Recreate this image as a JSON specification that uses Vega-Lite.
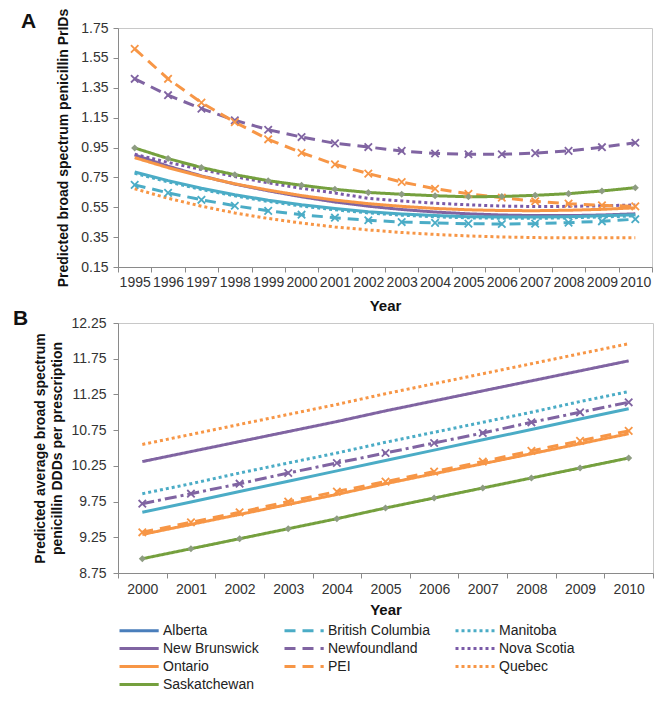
{
  "$schema": "https://vega.github.io/schema/vega-lite/v6.json",
  "background": "white",
  "padding": {"left": 12, "top": 7, "right": 8, "bottom": 4},
  "config": {
    "font": "Liberation Sans",
    "view": {"stroke": "#C8C8C8", "strokeWidth": 1},
    "axis": {
      "labelFont": "Liberation Sans", "labelFontSize": 14, "labelColor": "#333333",
      "titleFont": "Liberation Sans", "titleFontSize": 14, "titleFontWeight": "bold", "titleColor": "#111111",
      "domainColor": "#8A8A8A", "tickColor": "#8A8A8A", "tickSize": 5, "grid": false
    },
    "legend": {
      "symbolType": "M-1,0H4.6", "symbolSize": 196, "symbolStrokeWidth": 3,
      "labelFont": "Liberation Sans", "labelFontSize": 14, "labelColor": "#222222",
      "labelOffset": 28, "columnPadding": 19, "rowPadding": 2, "offset": 4
    },
    "title": {"font": "Liberation Sans"}
  },
  "datasets": {
    "a": [
      {"series":"Alberta","year":1995,"value":0.786},{"series":"Alberta","year":1996,"value":0.728},{"series":"Alberta","year":1997,"value":0.677},{"series":"Alberta","year":1998,"value":0.634},{"series":"Alberta","year":1999,"value":0.597},{"series":"Alberta","year":2000,"value":0.566},{"series":"Alberta","year":2001,"value":0.541},{"series":"Alberta","year":2002,"value":0.52},{"series":"Alberta","year":2003,"value":0.505},{"series":"Alberta","year":2004,"value":0.494},{"series":"Alberta","year":2005,"value":0.487},{"series":"Alberta","year":2006,"value":0.484},{"series":"Alberta","year":2007,"value":0.484},{"series":"Alberta","year":2008,"value":0.487},{"series":"Alberta","year":2009,"value":0.493},{"series":"Alberta","year":2010,"value":0.5},
      {"series":"Manitoba","year":1995,"value":0.778},{"series":"Manitoba","year":1996,"value":0.72},{"series":"Manitoba","year":1997,"value":0.669},{"series":"Manitoba","year":1998,"value":0.626},{"series":"Manitoba","year":1999,"value":0.589},{"series":"Manitoba","year":2000,"value":0.558},{"series":"Manitoba","year":2001,"value":0.533},{"series":"Manitoba","year":2002,"value":0.512},{"series":"Manitoba","year":2003,"value":0.497},{"series":"Manitoba","year":2004,"value":0.486},{"series":"Manitoba","year":2005,"value":0.479},{"series":"Manitoba","year":2006,"value":0.476},{"series":"Manitoba","year":2007,"value":0.476},{"series":"Manitoba","year":2008,"value":0.479},{"series":"Manitoba","year":2009,"value":0.485},{"series":"Manitoba","year":2010,"value":0.492},
      {"series":"British Columbia","year":1995,"value":0.7},{"series":"British Columbia","year":1996,"value":0.646},{"series":"British Columbia","year":1997,"value":0.6},{"series":"British Columbia","year":1998,"value":0.56},{"series":"British Columbia","year":1999,"value":0.526},{"series":"British Columbia","year":2000,"value":0.5},{"series":"British Columbia","year":2001,"value":0.48},{"series":"British Columbia","year":2002,"value":0.463},{"series":"British Columbia","year":2003,"value":0.451},{"series":"British Columbia","year":2004,"value":0.445},{"series":"British Columbia","year":2005,"value":0.44},{"series":"British Columbia","year":2006,"value":0.438},{"series":"British Columbia","year":2007,"value":0.44},{"series":"British Columbia","year":2008,"value":0.447},{"series":"British Columbia","year":2009,"value":0.456},{"series":"British Columbia","year":2010,"value":0.47},
      {"series":"New Brunswick","year":1995,"value":0.9},{"series":"New Brunswick","year":1996,"value":0.825},{"series":"New Brunswick","year":1997,"value":0.76},{"series":"New Brunswick","year":1998,"value":0.705},{"series":"New Brunswick","year":1999,"value":0.66},{"series":"New Brunswick","year":2000,"value":0.62},{"series":"New Brunswick","year":2001,"value":0.585},{"series":"New Brunswick","year":2002,"value":0.557},{"series":"New Brunswick","year":2003,"value":0.535},{"series":"New Brunswick","year":2004,"value":0.518},{"series":"New Brunswick","year":2005,"value":0.506},{"series":"New Brunswick","year":2006,"value":0.498},{"series":"New Brunswick","year":2007,"value":0.494},{"series":"New Brunswick","year":2008,"value":0.494},{"series":"New Brunswick","year":2009,"value":0.498},{"series":"New Brunswick","year":2010,"value":0.506},
      {"series":"Newfoundland","year":1995,"value":1.41},{"series":"Newfoundland","year":1996,"value":1.3},{"series":"Newfoundland","year":1997,"value":1.21},{"series":"Newfoundland","year":1998,"value":1.132},{"series":"Newfoundland","year":1999,"value":1.069},{"series":"Newfoundland","year":2000,"value":1.02},{"series":"Newfoundland","year":2001,"value":0.978},{"series":"Newfoundland","year":2002,"value":0.953},{"series":"Newfoundland","year":2003,"value":0.927},{"series":"Newfoundland","year":2004,"value":0.91},{"series":"Newfoundland","year":2005,"value":0.905},{"series":"Newfoundland","year":2006,"value":0.905},{"series":"Newfoundland","year":2007,"value":0.912},{"series":"Newfoundland","year":2008,"value":0.927},{"series":"Newfoundland","year":2009,"value":0.952},{"series":"Newfoundland","year":2010,"value":0.982},
      {"series":"Nova Scotia","year":1995,"value":0.905},{"series":"Nova Scotia","year":1996,"value":0.85},{"series":"Nova Scotia","year":1997,"value":0.803},{"series":"Nova Scotia","year":1998,"value":0.755},{"series":"Nova Scotia","year":1999,"value":0.713},{"series":"Nova Scotia","year":2000,"value":0.677},{"series":"Nova Scotia","year":2001,"value":0.645},{"series":"Nova Scotia","year":2002,"value":0.61},{"series":"Nova Scotia","year":2003,"value":0.592},{"series":"Nova Scotia","year":2004,"value":0.577},{"series":"Nova Scotia","year":2005,"value":0.566},{"series":"Nova Scotia","year":2006,"value":0.558},{"series":"Nova Scotia","year":2007,"value":0.555},{"series":"Nova Scotia","year":2008,"value":0.556},{"series":"Nova Scotia","year":2009,"value":0.56},{"series":"Nova Scotia","year":2010,"value":0.565},
      {"series":"Ontario","year":1995,"value":0.882},{"series":"Ontario","year":1996,"value":0.815},{"series":"Ontario","year":1997,"value":0.757},{"series":"Ontario","year":1998,"value":0.707},{"series":"Ontario","year":1999,"value":0.665},{"series":"Ontario","year":2000,"value":0.628},{"series":"Ontario","year":2001,"value":0.598},{"series":"Ontario","year":2002,"value":0.574},{"series":"Ontario","year":2003,"value":0.556},{"series":"Ontario","year":2004,"value":0.542},{"series":"Ontario","year":2005,"value":0.533},{"series":"Ontario","year":2006,"value":0.528},{"series":"Ontario","year":2007,"value":0.527},{"series":"Ontario","year":2008,"value":0.53},{"series":"Ontario","year":2009,"value":0.536},{"series":"Ontario","year":2010,"value":0.546},
      {"series":"PEI","year":1995,"value":1.61},{"series":"PEI","year":1996,"value":1.41},{"series":"PEI","year":1997,"value":1.25},{"series":"PEI","year":1998,"value":1.12},{"series":"PEI","year":1999,"value":1.005},{"series":"PEI","year":2000,"value":0.915},{"series":"PEI","year":2001,"value":0.837},{"series":"PEI","year":2002,"value":0.775},{"series":"PEI","year":2003,"value":0.719},{"series":"PEI","year":2004,"value":0.674},{"series":"PEI","year":2005,"value":0.64},{"series":"PEI","year":2006,"value":0.614},{"series":"PEI","year":2007,"value":0.59},{"series":"PEI","year":2008,"value":0.574},{"series":"PEI","year":2009,"value":0.563},{"series":"PEI","year":2010,"value":0.556},
      {"series":"Quebec","year":1995,"value":0.674},{"series":"Quebec","year":1996,"value":0.61},{"series":"Quebec","year":1997,"value":0.557},{"series":"Quebec","year":1998,"value":0.512},{"series":"Quebec","year":1999,"value":0.475},{"series":"Quebec","year":2000,"value":0.444},{"series":"Quebec","year":2001,"value":0.418},{"series":"Quebec","year":2002,"value":0.398},{"series":"Quebec","year":2003,"value":0.381},{"series":"Quebec","year":2004,"value":0.368},{"series":"Quebec","year":2005,"value":0.358},{"series":"Quebec","year":2006,"value":0.351},{"series":"Quebec","year":2007,"value":0.347},{"series":"Quebec","year":2008,"value":0.345},{"series":"Quebec","year":2009,"value":0.345},{"series":"Quebec","year":2010,"value":0.346},
      {"series":"Saskatchewan","year":1995,"value":0.947},{"series":"Saskatchewan","year":1996,"value":0.876},{"series":"Saskatchewan","year":1997,"value":0.816},{"series":"Saskatchewan","year":1998,"value":0.768},{"series":"Saskatchewan","year":1999,"value":0.728},{"series":"Saskatchewan","year":2000,"value":0.697},{"series":"Saskatchewan","year":2001,"value":0.67},{"series":"Saskatchewan","year":2002,"value":0.649},{"series":"Saskatchewan","year":2003,"value":0.637},{"series":"Saskatchewan","year":2004,"value":0.627},{"series":"Saskatchewan","year":2005,"value":0.62},{"series":"Saskatchewan","year":2006,"value":0.622},{"series":"Saskatchewan","year":2007,"value":0.63},{"series":"Saskatchewan","year":2008,"value":0.641},{"series":"Saskatchewan","year":2009,"value":0.659},{"series":"Saskatchewan","year":2010,"value":0.681}
    ],
    "b": [
      {"series":"Alberta","year":2000,"value":9.6},{"series":"Alberta","year":2001,"value":9.745},{"series":"Alberta","year":2002,"value":9.89},{"series":"Alberta","year":2003,"value":10.035},{"series":"Alberta","year":2004,"value":10.18},{"series":"Alberta","year":2005,"value":10.325},{"series":"Alberta","year":2006,"value":10.47},{"series":"Alberta","year":2007,"value":10.615},{"series":"Alberta","year":2008,"value":10.76},{"series":"Alberta","year":2009,"value":10.905},{"series":"Alberta","year":2010,"value":11.05},
      {"series":"Manitoba","year":2000,"value":9.86},{"series":"Manitoba","year":2001,"value":10.0},{"series":"Manitoba","year":2002,"value":10.15},{"series":"Manitoba","year":2003,"value":10.29},{"series":"Manitoba","year":2004,"value":10.43},{"series":"Manitoba","year":2005,"value":10.58},{"series":"Manitoba","year":2006,"value":10.72},{"series":"Manitoba","year":2007,"value":10.86},{"series":"Manitoba","year":2008,"value":11.0},{"series":"Manitoba","year":2009,"value":11.15},{"series":"Manitoba","year":2010,"value":11.29},
      {"series":"New Brunswick","year":2000,"value":10.31},{"series":"New Brunswick","year":2001,"value":10.45},{"series":"New Brunswick","year":2002,"value":10.59},{"series":"New Brunswick","year":2003,"value":10.73},{"series":"New Brunswick","year":2004,"value":10.87},{"series":"New Brunswick","year":2005,"value":11.02},{"series":"New Brunswick","year":2006,"value":11.16},{"series":"New Brunswick","year":2007,"value":11.3},{"series":"New Brunswick","year":2008,"value":11.44},{"series":"New Brunswick","year":2009,"value":11.58},{"series":"New Brunswick","year":2010,"value":11.72},
      {"series":"Newfoundland","year":2000,"value":9.72},{"series":"Newfoundland","year":2001,"value":9.86},{"series":"Newfoundland","year":2002,"value":10.0},{"series":"Newfoundland","year":2003,"value":10.15},{"series":"Newfoundland","year":2004,"value":10.29},{"series":"Newfoundland","year":2005,"value":10.43},{"series":"Newfoundland","year":2006,"value":10.57},{"series":"Newfoundland","year":2007,"value":10.71},{"series":"Newfoundland","year":2008,"value":10.86},{"series":"Newfoundland","year":2009,"value":11.0},{"series":"Newfoundland","year":2010,"value":11.14},
      {"series":"Ontario","year":2000,"value":9.29},{"series":"Ontario","year":2001,"value":9.43},{"series":"Ontario","year":2002,"value":9.57},{"series":"Ontario","year":2003,"value":9.71},{"series":"Ontario","year":2004,"value":9.85},{"series":"Ontario","year":2005,"value":10.0},{"series":"Ontario","year":2006,"value":10.14},{"series":"Ontario","year":2007,"value":10.28},{"series":"Ontario","year":2008,"value":10.42},{"series":"Ontario","year":2009,"value":10.56},{"series":"Ontario","year":2010,"value":10.7},
      {"series":"PEI","year":2000,"value":9.32},{"series":"PEI","year":2001,"value":9.46},{"series":"PEI","year":2002,"value":9.6},{"series":"PEI","year":2003,"value":9.75},{"series":"PEI","year":2004,"value":9.89},{"series":"PEI","year":2005,"value":10.03},{"series":"PEI","year":2006,"value":10.17},{"series":"PEI","year":2007,"value":10.31},{"series":"PEI","year":2008,"value":10.46},{"series":"PEI","year":2009,"value":10.6},{"series":"PEI","year":2010,"value":10.74},
      {"series":"Quebec","year":2000,"value":10.55},{"series":"Quebec","year":2001,"value":10.69},{"series":"Quebec","year":2002,"value":10.83},{"series":"Quebec","year":2003,"value":10.97},{"series":"Quebec","year":2004,"value":11.11},{"series":"Quebec","year":2005,"value":11.26},{"series":"Quebec","year":2006,"value":11.4},{"series":"Quebec","year":2007,"value":11.54},{"series":"Quebec","year":2008,"value":11.68},{"series":"Quebec","year":2009,"value":11.82},{"series":"Quebec","year":2010,"value":11.96},
      {"series":"Saskatchewan","year":2000,"value":8.95},{"series":"Saskatchewan","year":2001,"value":9.09},{"series":"Saskatchewan","year":2002,"value":9.23},{"series":"Saskatchewan","year":2003,"value":9.37},{"series":"Saskatchewan","year":2004,"value":9.51},{"series":"Saskatchewan","year":2005,"value":9.66},{"series":"Saskatchewan","year":2006,"value":9.8},{"series":"Saskatchewan","year":2007,"value":9.94},{"series":"Saskatchewan","year":2008,"value":10.08},{"series":"Saskatchewan","year":2009,"value":10.22},{"series":"Saskatchewan","year":2010,"value":10.36}
    ]
  },
  "spacing": -7,
  "vconcat": [
    {
      "width": 534, "height": 239,
      "title": {"text": "A", "anchor": "start", "frame": "group", "fontSize": 21, "fontWeight": "bold", "color": "#111111", "dx": -97, "offset": -24},
      "data": {"name": "a"},
      "encoding": {
        "x": {"field": "year", "type": "ordinal", "scale": {"type": "band", "paddingInner": 0, "paddingOuter": 0},
              "axis": {"title": "Year", "labelAngle": 0, "tickBand": "extent", "labelPadding": 3, "titlePadding": 9, "titleFontSize": 15}},
        "y": {"field": "value", "type": "quantitative", "scale": {"domain": [0.15, 1.75], "nice": false, "zero": false},
              "axis": {"title": "Predicted broad spectrum penicillin PrIDs", "values": [0.15,0.35,0.55,0.75,0.95,1.15,1.35,1.55,1.75], "format": ".2f", "labelPadding": 5, "titlePadding": 10}}
      },
      "layer": [
        {"transform": [{"filter": "datum.series !== 'Alberta'"}],
         "mark": {"type": "line", "strokeWidth": 3},
         "encoding": {
           "color": {"field": "series", "type": "nominal", "title": null,
             "scale": {"domain": ["Alberta","British Columbia","Manitoba","New Brunswick","Newfoundland","Nova Scotia","Ontario","PEI","Quebec","Saskatchewan"],
                       "range": ["#4A7EBB","#4BACC6","#4BACC6","#8064A2","#8064A2","#7A5AA8","#F79646","#F79646","#F79646","#75A03E"]},
             "legend": {"orient": "bottom", "columns": 3, "title": null}},
           "strokeDash": {"field": "series", "type": "nominal", "title": null,
             "scale": {"domain": ["Alberta","British Columbia","Manitoba","New Brunswick","Newfoundland","Nova Scotia","Ontario","PEI","Quebec","Saskatchewan"],
                       "range": [[1,0],[11,7],[3,3],[1,0],[11,7],[3,3],[1,0],[11,7],[3,3],[1,0]]},
             "legend": {"orient": "bottom", "columns": 3, "title": null}}
         }},
        {"transform": [{"filter": "datum.series === 'Alberta'"}],
         "mark": {"type": "line", "strokeWidth": 3, "color": "#4BACC6"}, "encoding": {}},
        {"transform": [{"filter": {"field": "series", "oneOf": ["British Columbia","Newfoundland","PEI"]}}],
         "mark": {"type": "point", "shape": "M-1,-1L1,1M-1,1L1,-1", "size": 55, "filled": false, "strokeWidth": 1.8, "opacity": 1},
         "encoding": {"color": {"field": "series", "type": "nominal", "title": null, "legend": {"orient": "bottom", "columns": 3, "title": null}}}},
        {"transform": [{"filter": "datum.series === 'Saskatchewan'"}],
         "mark": {"type": "point", "shape": "diamond", "size": 50, "filled": true, "color": "#8E9C82", "opacity": 1}, "encoding": {}}
      ]
    },
    {
      "width": 535, "height": 250,
      "title": {"text": "B", "anchor": "start", "frame": "group", "fontSize": 21, "fontWeight": "bold", "color": "#111111", "dx": -105, "offset": -13},
      "data": {"name": "b"},
      "encoding": {
        "x": {"field": "year", "type": "ordinal", "scale": {"type": "band", "paddingInner": 0, "paddingOuter": 0},
              "axis": {"title": "Year", "labelAngle": 0, "tickBand": "extent", "labelPadding": 4, "titlePadding": 6, "titleFontSize": 15}},
        "y": {"field": "value", "type": "quantitative", "scale": {"domain": [8.75, 12.25], "nice": false, "zero": false},
              "axis": {"title": ["Predicted average broad spectrum", "penicillin DDDs per prescription"], "titleLineHeight": 17, "values": [8.75,9.25,9.75,10.25,10.75,11.25,11.75,12.25], "format": ".2f", "labelPadding": 7, "titlePadding": 6}}
      },
      "layer": [
        {"transform": [{"filter": "datum.series !== 'Alberta' && datum.series !== 'Newfoundland'"}],
         "mark": {"type": "line", "strokeWidth": 3},
         "encoding": {
           "color": {"field": "series", "type": "nominal", "title": null, "legend": {"orient": "bottom", "columns": 3, "title": null}},
           "strokeDash": {"field": "series", "type": "nominal", "title": null, "legend": {"orient": "bottom", "columns": 3, "title": null}}
         }},
        {"transform": [{"filter": "datum.series === 'Newfoundland'"}],
         "mark": {"type": "line", "strokeWidth": 3, "strokeDash": [12, 4, 3, 4]},
         "encoding": {"color": {"field": "series", "type": "nominal", "title": null, "legend": {"orient": "bottom", "columns": 3, "title": null}}}},
        {"transform": [{"filter": "datum.series === 'Alberta'"}],
         "mark": {"type": "line", "strokeWidth": 3, "color": "#4BACC6"}, "encoding": {}},
        {"transform": [{"filter": {"field": "series", "oneOf": ["Newfoundland","PEI"]}}],
         "mark": {"type": "point", "shape": "M-1,-1L1,1M-1,1L1,-1", "size": 55, "filled": false, "strokeWidth": 1.8, "opacity": 1},
         "encoding": {"color": {"field": "series", "type": "nominal", "title": null, "legend": {"orient": "bottom", "columns": 3, "title": null}}}},
        {"transform": [{"filter": "datum.series === 'Saskatchewan'"}],
         "mark": {"type": "point", "shape": "diamond", "size": 50, "filled": true, "color": "#8E9C82", "opacity": 1}, "encoding": {}}
      ]
    }
  ]
}
